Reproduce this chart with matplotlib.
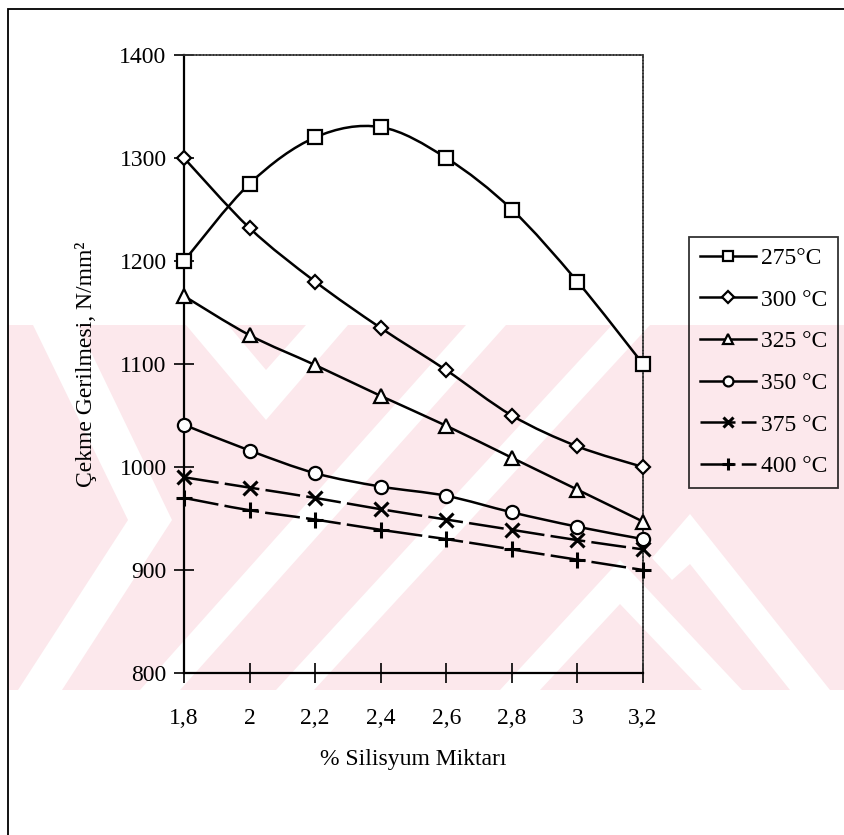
import matplotlib.pyplot as plt
from matplotlib.path import Path
from matplotlib.patches import PathPatch, Polygon, Rectangle
from matplotlib.lines import Line2D

plt.rcParams['font.family'] = ['Liberation Serif', 'DejaVu Serif']

# data
silisyum = [1.8, 2.0, 2.2, 2.4, 2.6, 2.8, 3.0, 3.2]
xtick_labels = ['1,8', '2', '2,2', '2,4', '2,6', '2,8', '3', '3,2']
yticks = [800, 900, 1000, 1100, 1200, 1300, 1400]

t275 = [1200, 1275, 1320, 1330, 1300, 1250, 1180, 1100]
t300 = [1300, 1232, 1180, 1135, 1094, 1050, 1020, 1000]
t325 = [1166, 1128, 1099, 1069, 1040, 1009, 978, 947]
t350 = [1041, 1016, 994, 981, 972, 956, 942, 930]
t375 = [990, 980, 970, 959, 949, 939, 929, 920]
t400 = [970, 958, 949, 939, 930, 920, 910, 900]

kesikli = (0, (14, 2.5))
seriler = [
    ('275°C', t275, 's', 9.5, '-'),
    ('300 °C', t300, 'D', 7.5, '-'),
    ('325 °C', t325, '^', 10, '-'),
    ('350 °C', t350, 'o', 9.5, '-'),
    ('375 °C', t375, 'x', 10, kesikli),
    ('400 °C', t400, '+', 11, kesikli),
]

W, H = 845, 835
fig = plt.figure(figsize=(W / 100, H / 100), dpi=100)


def px(pts):
    # image pixel coords -> figure fraction
    return [(x / W, 1 - y / H) for x, y in pts]


# pink watermark band behind the chart
pembe = '#fce8ec'
fig.add_artist(Polygon(px([(8, 325), (845, 325), (845, 690), (8, 690)]),
                       closed=True, color=pembe, lw=0, zorder=0,
                       transform=fig.transFigure))
beyaz_seritler = [
    [(33, 325), (78, 325), (172, 520), (62, 690), (18, 690), (128, 520)],
    [(186, 325), (228, 325), (266, 370), (306, 325), (348, 325), (266, 420)],
    [(140, 690), (180, 690), (506, 325), (466, 325)],
    [(276, 690), (314, 690), (650, 325), (612, 325)],
    [(500, 690), (540, 690), (620, 604), (702, 690), (742, 690), (620, 560)],
    [(652, 558), (690, 514), (830, 690), (790, 690), (690, 564), (672, 580)],
]
for s in beyaz_seritler:
    fig.add_artist(Polygon(px(s), closed=True, color='white', lw=0, zorder=0.5,
                           transform=fig.transFigure))

# outer frame
fig.add_artist(Rectangle((8 / W, -0.05), 1.0, 1 - 9 / H + 0.05, fill=False,
                         ec='black', lw=1.3, transform=fig.transFigure, zorder=1))

ax = fig.add_axes([184 / W, 1 - 673 / H, (643 - 184) / W, (673 - 55) / H])
ax.set_facecolor('none')
ax.set_zorder(2)


def egri(xs, ys):
    # smooth bezier curve through the points (like Excel smoothed lines)
    verts = [(xs[0], ys[0])]
    codes = [Path.MOVETO]
    n = len(xs)
    for i in range(n - 1):
        x0, y0 = xs[max(i - 1, 0)], ys[max(i - 1, 0)]
        x1, y1 = xs[i], ys[i]
        x2, y2 = xs[i + 1], ys[i + 1]
        x3, y3 = xs[min(i + 2, n - 1)], ys[min(i + 2, n - 1)]
        c1 = (x1 + (x2 - x0) / 6, y1 + (y2 - y0) / 6)
        c2 = (x2 - (x3 - x1) / 6, y2 - (y3 - y1) / 6)
        verts += [c1, c2, (x2, y2)]
        codes += [Path.CURVE4] * 3
    return Path(verts, codes)


handles = []
for ad, ys, mk, ms, ls in seriler:
    ax.add_patch(PathPatch(egri(silisyum, ys), fill=False, ec='black', lw=1.8,
                           ls=ls, zorder=3))
    mew = 2.2 if mk in ('x', '+') else 1.6
    ax.plot(silisyum, ys, ls='none', marker=mk, ms=ms, mfc='white', mec='black',
            mew=mew, zorder=4, clip_on=False)
    handles.append(Line2D([], [], color='black', lw=1.8, ls=ls, marker=mk,
                          ms=ms * 0.75, mfc='white', mec='black', mew=mew, label=ad))

ax.set_xlim(1.8, 3.2)
ax.set_ylim(800, 1400)
ax.set_xticks(silisyum)
ax.set_xticklabels(xtick_labels)
ax.set_yticks(yticks)
ax.tick_params(direction='inout', length=15, width=1.2, labelsize=17, color='black')
ax.tick_params(axis='x', pad=18)
ax.tick_params(axis='y', pad=5)

for k in ('left', 'bottom'):
    ax.spines[k].set_linewidth(1.6)
for k in ('top', 'right'):
    ax.spines[k].set_linewidth(1.2)
    ax.spines[k].set_color('#333333')
    ax.spines[k].set_linestyle((0, (1.2, 0.8)))

ax.set_xlabel('% Silisyum Miktarı', fontsize=17, labelpad=14)
ax.set_ylabel('Çekme Gerilmesi, N/mm²', fontsize=17, labelpad=16)

leg = fig.legend(handles=handles, loc='upper left',
                 bbox_to_anchor=(689 / W, 1 - 237 / H), borderaxespad=0,
                 fontsize=17, frameon=True, fancybox=False,
                 edgecolor='black', handlelength=2.4, handletextpad=0.2,
                 borderpad=0.45, labelspacing=0.85)
leg.get_frame().set_facecolor('none')
leg.get_frame().set_linewidth(1.3)
leg.set_zorder(5)

fig.savefig('out.png', dpi=100)
